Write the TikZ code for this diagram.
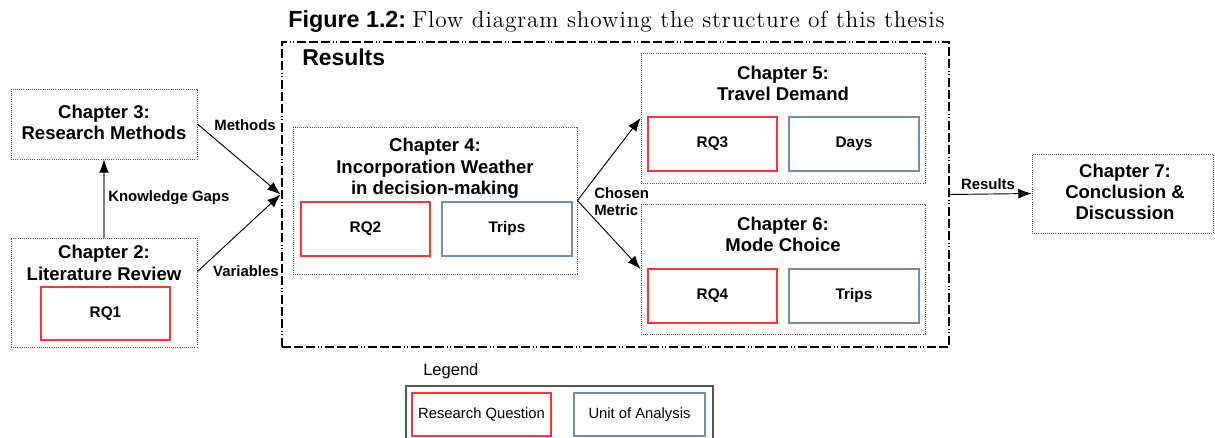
\documentclass[tikz,border=0pt]{standalone}
\usepackage{fontspec}
\setsansfont{Liberation Sans}
\newfontfamily\captionserif{lmroman12-regular.otf}[LetterSpace=3.8]
\usetikzlibrary{arrows.meta,fit}
\definecolor{rqred}{HTML}{FF3333}
\definecolor{unitblue}{HTML}{6C8EBF}
\definecolor{framegray}{HTML}{555555}
\tikzset{
  chapbox/.style={draw=framegray, densely dotted, line width=0.6pt, inner sep=0pt, rectangle},
  rqbox/.style={draw=rqred, line width=0.8pt, inner sep=0pt, rectangle},
  unitbox/.style={draw=unitblue, line width=0.8pt, inner sep=0pt, rectangle},
  boxtext/.style={font=\sffamily\bfseries\fontsize{11.5}{13}\selectfont, inner sep=0pt},
  legtext/.style={font=\sffamily\fontsize{11.1}{13}\selectfont, inner sep=0pt},
  chaptitle/.style={font=\sffamily\bfseries\fontsize{13.9}{16}\selectfont, align=center, inner sep=0pt},
  edgelabel/.style={font=\sffamily\bfseries\fontsize{11.2}{13}\selectfont, inner sep=0pt, align=left},
  flow/.style={-{Latex[length=10pt,width=7.5pt]}, line width=0.7pt},
  resultsframe/.style={draw, line width=2.2pt, inner sep=0pt, rectangle,
    dash pattern=on 6.75pt off 2.25pt on 6.75pt off 2.25pt on 6.75pt off 2.25pt
                 on 0.75pt off 1.5pt on 0.75pt off 2.25pt}
}
\begin{document}
\begin{tikzpicture}[x=0.75pt, y=-0.75pt]
\useasboundingbox (0,0) rectangle (1215,438);

% caption: sans label followed by serif text
\node[anchor=base west, inner sep=0pt] (caption) at (288,27.3)
  {{\sffamily\bfseries\fontsize{17.5}{20}\selectfont Figure 1.2:}\hspace{4.5pt}%
   {\captionserif\fontsize{17.5}{20}\selectfont Flow diagram showing the structure of this thesis}};

% results frame
\node[resultsframe, fit={(282,42) (949,347)}] (res) {};
\node[anchor=west, inner sep=0pt, font=\sffamily\bfseries\fontsize{17.2}{20}\selectfont] (restitle) at (302,57) {Results};

% chapter 3
\node[chapbox, fit={(11,89) (197,159)}] (c3) {};
\node[chaptitle] (t3) at (104,122.5) {Chapter 3:\\Research Methods};

% chapter 2
\node[chapbox, fit={(11,238) (197,347)}] (c2) {};
\node[chaptitle] (t2) at (104,263) {Chapter 2:\\Literature Review};
\node[rqbox, fit={(41,287) (170,340)}] (rq1) {};
\node[boxtext] at (rq1.center) {RQ1};

% chapter 4
\node[chapbox, fit={(293,127) (577,274)}] (c4) {};
\node[chaptitle] (t4) at (435,168.5) {Chapter 4:\\Incorporation Weather\\in decision-making};
\node[rqbox, fit={(301,202) (430,256)}] (rq2) {};
\node[boxtext] at (rq2.center) {RQ2};
\node[unitbox, fit={(442,202) (572,256)}] (u4) {};
\node[boxtext] at (u4.center) {Trips};

% chapter 5
\node[chapbox, fit={(641,53) (925,183)}] (c5) {};
\node[chaptitle] (t5) at (783,83.5) {Chapter 5:\\Travel Demand};
\node[rqbox, fit={(648,117) (777,171)}] (rq3) {};
\node[boxtext] at (rq3.center) {RQ3};
\node[unitbox, fit={(789,117) (919,171)}] (u5) {};
\node[boxtext] at (u5.center) {Days};

% chapter 6
\node[chapbox, fit={(641,204) (925,334)}] (c6) {};
\node[chaptitle] (t6) at (783,234.5) {Chapter 6:\\Mode Choice};
\node[rqbox, fit={(648,269) (777,323)}] (rq4) {};
\node[boxtext] at (rq4.center) {RQ4};
\node[unitbox, fit={(789,269) (919,323)}] (u6) {};
\node[boxtext] at (u6.center) {Trips};

% chapter 7
\node[chapbox, fit={(1032,154) (1213,233)}] (c7) {};
\node[chaptitle] (t7) at (1125,192) {Chapter 7:\\Conclusion \&\\Discussion};

% connectors
\draw[flow, draw=gray, line width=0.9pt, -{Latex[length=10pt,width=7.5pt,color=black]}] (c2.north) -- (c3.south);
\node[edgelabel, anchor=west] at (108,198) {Knowledge Gaps};

\draw[flow] (c3.east) -- (res.west);
\node[edgelabel, anchor=east] at (276,125) {Methods};

\draw[flow] ([yshift=-25.5pt]c2.north east) -- (res.west);
\node[edgelabel, anchor=east] at (279,271) {Variables};

\draw[flow] (c4.east) -- (c5.west);
\draw[flow] (c4.east) -- (c6.west);
\node[edgelabel, anchor=north west] at (594,187) {Chosen\\Metric};

\draw[flow] (res.east) -- (c7.west);
\node[edgelabel, anchor=south] at (988,190) {Results};

% legend
\node[legtext, anchor=west, font=\sffamily\fontsize{12.4}{14}\selectfont] (legtitle) at (423,371) {Legend};
\node[draw=framegray, line width=0.8pt, inner sep=0pt, rectangle, fit={(406,386) (713,446)}] (legend) {};
\node[rqbox, fit={(412,393) (551,436)}] (legrq) {};
\node[legtext] at (legrq.center) {Research Question};
\node[unitbox, fit={(574,393) (705,436)}] (legunit) {};
\node[legtext] at (legunit.center) {Unit of Analysis};
\end{tikzpicture}
\end{document}
